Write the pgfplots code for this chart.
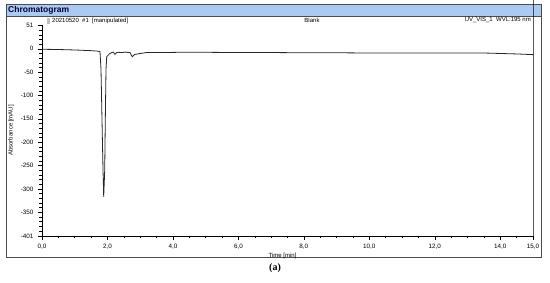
\documentclass[border=0pt]{standalone}
\usepackage{pgfplots}
\pgfplotsset{compat=1.18}
\usepackage{fontspec}
\setmainfont{Liberation Sans}
\newfontfamily\serifbf{Liberation Serif}
\definecolor{titlebar}{RGB}{172,202,240}

% chromatogram trace, time [min] vs absorbance [mAU]
\pgfplotstableread{
t v
0.00 -1
0.50 -1.5
1.00 -2.5
1.50 -4
1.70 -5
1.772 -6
1.803 -45
1.833 -152
1.864 -260
1.885 -317
1.916 -260
1.934 -152
1.955 -45
1.977 -17
2.03 -13
2.078 -10
2.13 -8
2.178 -7
2.23 -12
2.28 -8
2.33 -7.5
2.45 -8
2.55 -7
2.65 -8
2.69 -8
2.73 -14
2.76 -17
2.80 -14
2.84 -12
3.00 -10
3.20 -8
3.60 -8
4.20 -7.5
5.00 -7.5
6.00 -8
7.00 -8
8.00 -8.5
9.00 -8.5
10.00 -9
11.00 -9
12.00 -9
13.00 -9
13.50 -9
14.00 -10
14.50 -11
15.00 -12.5
}\trace

\begin{document}
\begin{tikzpicture}
\path[use as bounding box] (0pt,0pt) rectangle (550pt,-283pt);
% frame and title bar
\fill[white] (6pt,-5pt) rectangle (541pt,-258pt);
\fill[titlebar] (6pt,-5pt) rectangle (541pt,-16pt);
\draw[gray!60!black, line width=1pt] (6pt,-5pt) rectangle (541pt,-258pt);
\draw[gray!60!black, line width=0.6pt] (6pt,-16pt) -- (541pt,-16pt);
\node[anchor=west, font=\fontsize{8.5}{9}\selectfont\bfseries, text=blue!20!black, inner sep=0pt] at (8pt,-10.5pt) {Chromatogram};
% header row
\fill[gray!50] (47pt,-18pt) rectangle (50pt,-24pt);
\node[anchor=west, font=\fontsize{6}{7}\selectfont, inner sep=0pt] at (52pt,-20.5pt) {20210520\ \ \#1\ \ [manipulated]};
\node[font=\fontsize{6}{7}\selectfont, inner sep=0pt] at (312pt,-20.5pt) {Blank};
\node[anchor=east, font=\fontsize{6}{7}\selectfont, inner sep=0pt] at (531pt,-20.5pt) {UV\_VIS\_1\ \ WVL:195 nm};
\begin{axis}[
    at={(42pt,-236pt)}, anchor=south west,
    scale only axis, width=491pt, height=211pt,
    xmin=0, xmax=15, ymin=-401, ymax=51,
    axis x line*=bottom, axis y line*=left,
    axis line style={black, line width=0.6pt, -},
    xtick={0,2,4,6,8,10,12,14,15},
    xticklabels={{0,0},{2,0},{4,0},{6,0},{8,0},{10,0},{12,0},{14,0},{15,0}},
    minor xtick={0.5,1,...,14.5},
    ytick={51,0,-50,-100,-150,-200,-250,-300,-350,-401},
    yticklabels={51,0,-50,-100,-150,-200,-250,-300,-350,-401},
    minor ytick={-390,-380,...,50},
    tick align=outside,
    major tick length=4pt, minor tick length=2.5pt,
    tick style={black, line width=0.5pt},
    ticklabel style={font=\fontsize{6.3}{7}\selectfont},
    xticklabel style={yshift=-1pt},
    yticklabel style={xshift=-1pt},
    xlabel={Time [min]},
    ylabel={Absorbance [mAU]},
    xlabel style={font=\fontsize{6}{7}\selectfont, at={(rel axis cs:0.49,0)}, anchor=north, yshift=-13.5pt},
    ylabel style={font=\fontsize{6}{7}\selectfont},
    clip=false,
]
\addplot[black!85, line width=0.8pt] table[x=t, y=v] {\trace};
\draw[black, line width=0.6pt] (rel axis cs:1,0) -- (rel axis cs:1,1) -- ++(0,9pt);
\end{axis}
\node[font=\fontsize{10}{11}\selectfont\serifbf\bfseries] at (275pt,-268pt) {(a)};
\end{tikzpicture}
\end{document}
